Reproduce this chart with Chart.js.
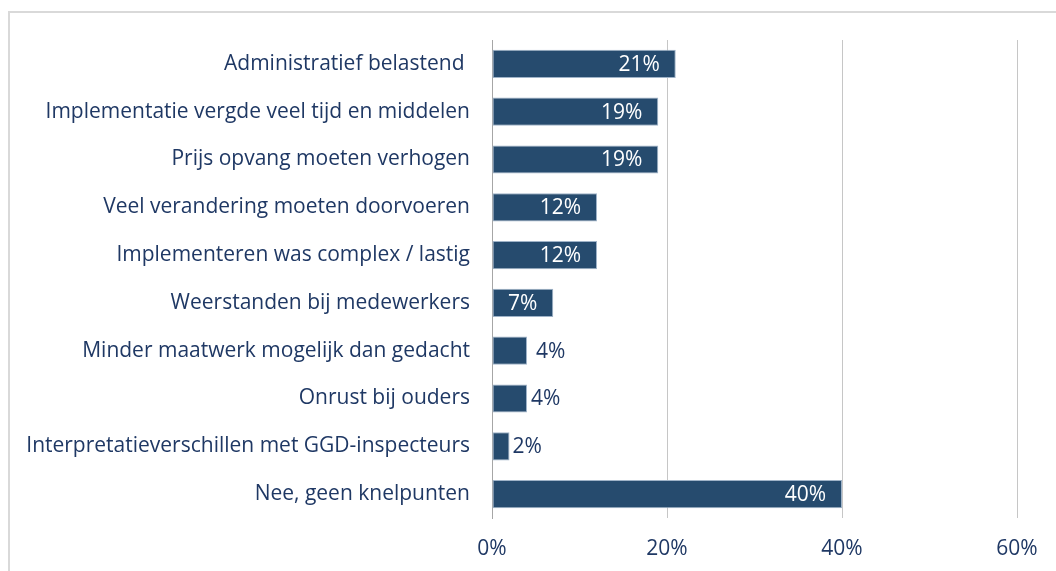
<!DOCTYPE html>
<html>
<head>
<meta charset="utf-8">
<script src="https://cdn.jsdelivr.net/npm/chart.js@4"></script>
<style>
  html, body { margin: 0; padding: 0; background: #fff; }
  #wrap { width: 1056px; height: 571px; position: relative; }
</style>
</head>
<body>
<div id="wrap"><canvas id="knelpunten"></canvas></div>
<script>
const categories = [
    'Administratief belastend ',
    'Implementatie vergde veel tijd en middelen',
    'Prijs opvang moeten verhogen',
    'Veel verandering moeten doorvoeren',
    'Implementeren was complex / lastig',
    'Weerstanden bij medewerkers',
    'Minder maatwerk mogelijk dan gedacht',
    'Onrust bij ouders',
    'Interpretatieverschillen met GGD-inspecteurs',
    'Nee, geen knelpunten'
];
const percentages = [21, 19, 19, 12, 12, 7, 4, 4, 2, 40];
const tickValues = [0, 20, 40, 60];

const textColor = '#1f3864';
const fontFamily = "'Open Sans', 'Noto Sans', sans-serif";
const fontSize = 21;

// light frame around the chart, like the spreadsheet chart box
const framePlugin = {
    id: 'frame',
    beforeDraw(chart) {
        const ctx = chart.ctx;
        ctx.save();
        ctx.strokeStyle = '#d9d9d9';
        ctx.lineWidth = 2;
        ctx.beginPath();
        ctx.moveTo(1056, 12);
        ctx.lineTo(9, 12);
        ctx.lineTo(9, 571);
        ctx.stroke();
        ctx.restore();
    }
};

// value labels: inside end for the bigger bars, just outside for the small ones
const outsideGap = [0, 0, 0, 0, 0, 0, 9, 4, 3, 0];
const valueLabels = {
    id: 'valueLabels',
    afterDatasetsDraw(chart) {
        const ctx = chart.ctx;
        const meta = chart.getDatasetMeta(0);
        ctx.save();
        ctx.font = fontSize + 'px ' + fontFamily;
        ctx.textBaseline = 'middle';
        meta.data.forEach((bar, i) => {
            const v = percentages[i];
            const txt = v + '%';
            if (v >= 7) {
                ctx.fillStyle = '#ffffff';
                ctx.textAlign = 'right';
                ctx.fillText(txt, bar.x - 16, bar.y + 1);
            } else {
                ctx.fillStyle = textColor;
                ctx.textAlign = 'left';
                ctx.fillText(txt, bar.x + outsideGap[i], bar.y + 1);
            }
        });
        ctx.restore();
    }
};

new Chart(document.getElementById('knelpunten'), {
    type: 'bar',
    data: {
        labels: categories,
        datasets: [{
            data: percentages,
            backgroundColor: '#264b6e',
            borderColor: '#9fb3c8',
            borderWidth: 1,
            borderSkipped: false,
            barPercentage: 0.59,
            categoryPercentage: 1
        }]
    },
    options: {
        indexAxis: 'y',
        responsive: true,
        maintainAspectRatio: false,
        animation: false,
        layout: { padding: { top: 40, right: 39, left: 0, bottom: 0 } },
        plugins: {
            legend: { display: false },
            tooltip: { enabled: false }
        },
        scales: {
            x: {
                min: 0,
                max: 60,
                afterBuildTicks: (scale) => {
                    scale.ticks = tickValues.map(v => ({ value: v }));
                },
                afterFit: (scale) => { scale.height = 53; },
                grid: {
                    color: (c) => c.tick && c.tick.value === 0 ? 'rgba(0,0,0,0)' : '#c6c6c6',
                    drawTicks: false
                },
                border: { display: false },
                ticks: {
                    padding: 18,
                    color: textColor,
                    font: { family: fontFamily, size: fontSize },
                    callback: (v) => v + '%'
                }
            },
            y: {
                afterFit: (scale) => { scale.width = 492; },
                grid: { display: false, drawTicks: false },
                border: { display: true, color: '#a6a6a6', width: 1 },
                ticks: {
                    padding: 22,
                    color: textColor,
                    font: { family: fontFamily, size: fontSize }
                }
            }
        }
    },
    plugins: [framePlugin, valueLabels]
});
</script>
</body>
</html>
